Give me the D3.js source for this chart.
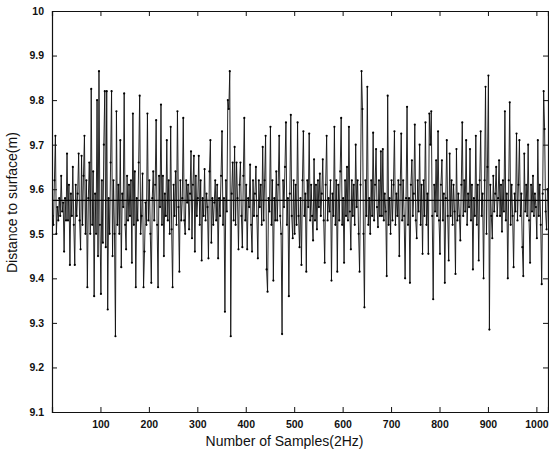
<!DOCTYPE html>
<html>
<head>
<meta charset="utf-8">
<script src="https://cdn.jsdelivr.net/npm/d3@7"></script>
<style>
    html, body { margin: 0; padding: 0; background: #fff; }
    #chart { width: 549px; height: 455px; }
</style>
</head>
<body>
<div id="chart"></div>
<script>
// distance readings, one kept value per 2 samples (sample 1, 3, 5 ...)
const distance = [
    9.54,9.52,9.62,9.72,9.50,9.56,9.53,9.58,9.54,9.63,
    9.55,9.57,9.46,9.58,9.53,9.68,9.53,9.61,9.43,9.59,
    9.54,9.65,9.52,9.43,9.61,9.54,9.59,9.68,9.53,9.465,
    9.675,9.52,9.63,9.72,9.50,9.62,9.38,9.58,9.66,9.50,
    9.825,9.52,9.64,9.36,9.59,9.50,9.80,9.45,9.865,9.52,
    9.365,9.62,9.48,9.70,9.82,9.47,9.82,9.33,9.58,9.50,
    9.66,9.82,9.45,9.62,9.50,9.27,9.775,9.52,9.61,9.50,
    9.71,9.425,9.59,9.56,9.815,9.52,9.465,9.63,9.53,9.61,
    9.54,9.62,9.435,9.77,9.52,9.64,9.38,9.58,9.53,9.66,
    9.81,9.50,9.54,9.635,9.38,9.46,9.57,9.52,9.77,9.53,
    9.62,9.50,9.39,9.58,9.64,9.53,9.61,9.755,9.52,9.38,
    9.63,9.56,9.79,9.52,9.63,9.45,9.59,9.54,9.71,9.53,
    9.62,9.50,9.74,9.51,9.38,9.61,9.54,9.64,9.52,9.775,
    9.56,9.415,9.62,9.53,9.58,9.76,9.53,9.50,9.62,9.57,
    9.61,9.51,9.59,9.685,9.49,9.61,9.675,9.46,9.63,9.54,
    9.58,9.675,9.52,9.62,9.44,9.58,9.54,9.645,9.53,9.59,
    9.56,9.445,9.64,9.71,9.48,9.58,9.52,9.57,9.62,9.53,
    9.61,9.445,9.58,9.54,9.63,9.73,9.52,9.58,9.325,9.62,
    9.55,9.80,9.78,9.865,9.27,9.59,9.66,9.53,9.695,9.52,
    9.66,9.58,9.465,9.61,9.66,9.54,9.47,9.63,9.76,9.53,
    9.61,9.465,9.58,9.56,9.655,9.52,9.46,9.62,9.54,9.59,
    9.65,9.54,9.445,9.62,9.56,9.61,9.52,9.695,9.53,9.62,
    9.72,9.42,9.37,9.58,9.55,9.74,9.52,9.62,9.395,9.58,
    9.53,9.64,9.53,9.61,9.72,9.54,9.50,9.275,9.62,9.56,
    9.65,9.75,9.52,9.58,9.36,9.59,9.767,9.54,9.49,9.62,
    9.50,9.61,9.52,9.75,9.54,9.47,9.58,9.43,9.62,9.73,
    9.54,9.59,9.415,9.62,9.56,9.725,9.53,9.61,9.54,9.485,
    9.667,9.53,9.61,9.51,9.62,9.56,9.635,9.54,9.59,9.667,
    9.53,9.435,9.61,9.72,9.53,9.58,9.55,9.62,9.395,9.59,
    9.54,9.74,9.52,9.62,9.415,9.61,9.53,9.64,9.76,9.52,
    9.58,9.435,9.62,9.54,9.65,9.53,9.74,9.55,9.465,9.62,
    9.54,9.61,9.52,9.70,9.56,9.62,9.50,9.415,9.61,9.865,
    9.78,9.50,9.335,9.62,9.54,9.83,9.52,9.58,9.50,9.62,
    9.54,9.727,9.53,9.61,9.69,9.56,9.515,9.62,9.54,9.685,
    9.54,9.69,9.53,9.59,9.55,9.405,9.81,9.52,9.58,9.50,
    9.62,9.53,9.61,9.73,9.52,9.59,9.54,9.62,9.45,9.61,
    9.725,9.53,9.62,9.54,9.40,9.58,9.785,9.52,9.58,9.39,
    9.61,9.665,9.54,9.59,9.745,9.53,9.49,9.62,9.55,9.70,
    9.52,9.61,9.455,9.62,9.54,9.75,9.52,9.59,9.455,9.77,
    9.70,9.775,9.54,9.353,9.61,9.55,9.665,9.54,9.73,9.53,
    9.455,9.61,9.665,9.53,9.59,9.39,9.58,9.71,9.54,9.44,
    9.68,9.54,9.62,9.52,9.61,9.55,9.41,9.69,9.53,9.59,
    9.54,9.485,9.61,9.75,9.54,9.62,9.55,9.71,9.52,9.59,
    9.56,9.69,9.53,9.61,9.42,9.58,9.54,9.72,9.52,9.61,
    9.44,9.62,9.73,9.54,9.59,9.40,9.62,9.83,9.50,9.65,
    9.855,9.285,9.61,9.54,9.49,9.63,9.55,9.59,9.65,9.54,
    9.58,9.665,9.54,9.61,9.505,9.62,9.55,9.775,9.53,9.59,
    9.40,9.62,9.795,9.52,9.61,9.54,9.425,9.59,9.55,9.725,
    9.53,9.61,9.71,9.54,9.59,9.47,9.405,9.68,9.55,9.61,
    9.54,9.70,9.53,9.435,9.61,9.55,9.63,9.54,9.59,9.56,
    9.49,9.71,9.54,9.61,9.52,9.387,9.59,9.82,9.735,9.55,9.51,9.60
];
const firstSample = 1;
const sampleStep = 2;
const meanDistance = 9.575;

const xTicks = [100, 200, 300, 400, 500, 600, 700, 800, 900, 1000];
const yTicks = [9.1, 9.2, 9.3, 9.4, 9.5, 9.6, 9.7, 9.8, 9.9, 10];
const xDomain = [0, 1024];
const yDomain = [9.1, 10];

const xTitle = "Number of Samples(2Hz)";
const yTitle = "Distance to surface(m)";

const attrs = {
    svgWidth: 549,
    svgHeight: 455,
    marginTop: 11,
    marginLeft: 52,
    marginRight: 1,
    marginBottom: 43,
    tickSize: 5,
    defaultFont: "Arial, 'Liberation Sans', sans-serif",
    textFill: "#111"
};

const chartWidth = attrs.svgWidth - attrs.marginLeft - attrs.marginRight;
const chartHeight = attrs.svgHeight - attrs.marginTop - attrs.marginBottom;

const points = distance.map((d, i) => ({ sample: firstSample + i * sampleStep, value: d }));

const svg = d3.select("#chart").append("svg")
    .attr("width", attrs.svgWidth)
    .attr("height", attrs.svgHeight)
    .attr("font-family", attrs.defaultFont);

const chart = svg.append("g")
    .attr("transform", `translate(${attrs.marginLeft},${attrs.marginTop})`);

const x = d3.scaleLinear().domain(xDomain).range([0, chartWidth]);
const y = d3.scaleLinear().domain(yDomain).range([chartHeight, 0]);

// clip so nothing leaks out of the box
svg.append("defs").append("clipPath").attr("id", "plotClip")
    .append("rect").attr("width", chartWidth).attr("height", chartHeight);

const plot = chart.append("g").attr("clip-path", "url(#plotClip)");

const line = d3.line()
    .x(d => x(d.sample))
    .y(d => y(d.value));

plot.append("path")
    .datum(points)
    .attr("fill", "none")
    .attr("stroke", "#111")
    .attr("stroke-width", 0.9)
    .attr("d", line);

plot.selectAll("circle.dot")
    .data(points)
    .join("circle")
    .attr("class", "dot")
    .attr("cx", d => x(d.sample))
    .attr("cy", d => y(d.value))
    .attr("r", 1.1)
    .attr("fill", "#000");

plot.append("line")
    .attr("class", "mean-line")
    .attr("x1", 0)
    .attr("x2", chartWidth)
    .attr("y1", y(meanDistance))
    .attr("y2", y(meanDistance))
    .attr("stroke", "#000")
    .attr("stroke-width", 1.4);

// axes, matlab style: ticks inside on all four sides
const axisBottom = d3.axisBottom(x).tickValues(xTicks).tickSize(-attrs.tickSize).tickPadding(9)
    .tickFormat(d3.format("d"));
const axisTop = d3.axisTop(x).tickValues(xTicks).tickSize(-attrs.tickSize).tickFormat("");
const axisLeft = d3.axisLeft(y).tickValues(yTicks).tickSize(-attrs.tickSize).tickPadding(8)
    .tickFormat(d => d === 10 ? "10" : d3.format(".1f")(d));
const axisRight = d3.axisRight(y).tickValues(yTicks).tickSize(-attrs.tickSize).tickFormat("");

const gx = chart.append("g").attr("transform", `translate(0,${chartHeight})`).call(axisBottom);
chart.append("g").call(axisTop);
const gy = chart.append("g").call(axisLeft);
chart.append("g").attr("transform", `translate(${chartWidth},0)`).call(axisRight);

chart.selectAll(".domain").attr("stroke", "#111").attr("stroke-width", 1.2);
chart.selectAll(".tick line").attr("stroke", "#111").attr("stroke-width", 1);

gx.selectAll("text")
    .attr("font-size", 10.5)
    .attr("font-weight", "bold")
    .attr("fill", attrs.textFill)
    .attr("font-family", attrs.defaultFont);
gy.selectAll("text")
    .attr("font-size", 10.5)
    .attr("font-weight", "bold")
    .attr("fill", attrs.textFill)
    .attr("font-family", attrs.defaultFont);

svg.append("text")
    .attr("x", attrs.marginLeft + x(480))
    .attr("y", 446)
    .attr("text-anchor", "middle")
    .attr("font-size", 14)
    .attr("fill", attrs.textFill)
    .text(xTitle);

svg.append("text")
    .attr("transform", `translate(17,${attrs.marginTop + y(9.57)}) rotate(-90)`)
    .attr("text-anchor", "middle")
    .attr("font-size", 14)
    .attr("fill", attrs.textFill)
    .text(yTitle);
</script>
</body>
</html>
